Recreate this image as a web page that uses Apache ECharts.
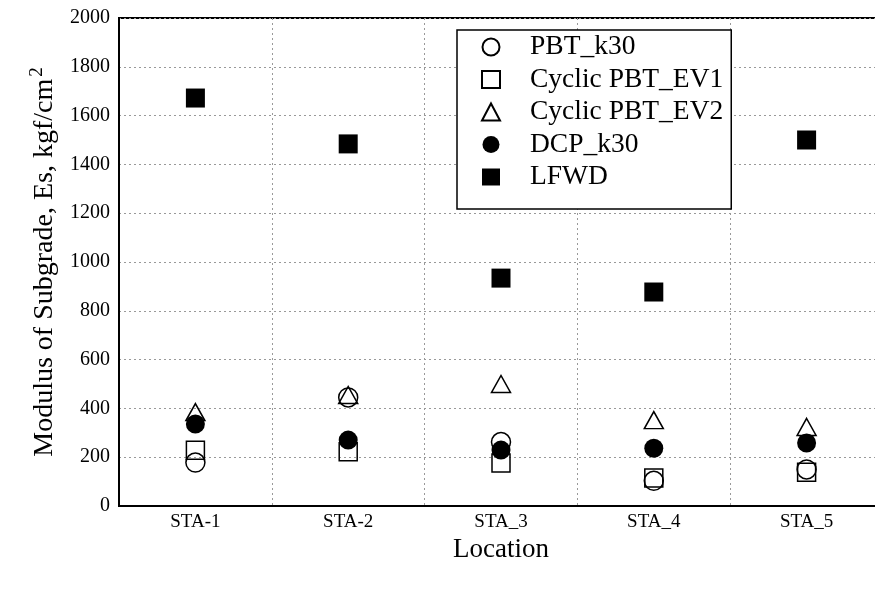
<!DOCTYPE html>
<html>
<head>
<meta charset="utf-8">
<script src="https://cdn.jsdelivr.net/npm/echarts@6/dist/echarts.min.js"></script>
<style>
  html, body { margin: 0; padding: 0; background: #fff; overflow: hidden; }
  /* the figure is cropped on the right, so the chart is a bit wider than the window */
  #main { width: 890px; height: 590px; }
</style>
</head>
<body>
<div id="main"></div>
<script>
// locations along the test road
const locations = ['STA-1', 'STA-2', 'STA_3', 'STA_4', 'STA_5']

// modulus of subgrade, kgf/cm2
const pbtK30 = [178, 445, 262, 103, 150]
const cyclicEv1 = [228, 222, 176, 115, 138]
const cyclicEv2 = [385, 455, 500, 352, 324]
const dcpK30 = [336, 270, 229, 237, 258]
const lfwd = [1672, 1484, 934, 877, 1500]

const yTicks = [0, 200, 400, 600, 800, 1000, 1200, 1400, 1600, 1800, 2000]

const serif = 'Liberation Serif, Times New Roman, serif'
const myChart = echarts.init(document.getElementById('main'))

// open markers: transparent fill with black outline
const open = { color: 'rgba(0,0,0,0)', borderColor: '#000', borderWidth: 1.5, opacity: 1 }
const filled = { color: '#000', opacity: 1 }

var option = {
  animation: false,
  backgroundColor: '#fff',
  grid: {
    left: 119,
    right: 7,
    top: 18,
    bottom: 84,
    show: true,
    borderColor: '#000',
    borderWidth: 2,
  },
  legend: {
    orient: 'vertical',
    left: 457,
    top: 30,
    padding: [3, 8, 18, 24],
    backgroundColor: '#fff',
    borderColor: '#000',
    borderWidth: 1.5,
    itemWidth: 18,
    itemHeight: 17,
    itemGap: 4.5,
    textStyle: {
      fontFamily: serif,
      fontSize: 27.5,
      color: '#000',
      lineHeight: 28,
      padding: [0, 0, 0, 25],
    },
    data: ['PBT_k30', 'Cyclic PBT_EV1', 'Cyclic PBT_EV2', 'DCP_k30', 'LFWD'],
  },
  xAxis: [
    {
      type: 'category',
      data: locations,
      name: 'Location',
      nameLocation: 'middle',
      nameGap: 30,
      nameTextStyle: { fontFamily: serif, fontSize: 27, color: '#000' },
      axisLine: { lineStyle: { color: '#000', width: 2 } },
      axisTick: { inside: true, length: 12, lineStyle: { color: '#000', width: 2 } },
      axisLabel: { fontFamily: serif, fontSize: 19, color: '#000', margin: 7 },
      splitLine: { show: true, lineStyle: { color: '#999', type: [2, 3], width: 1 } },
    },
    {
      type: 'category',
      position: 'top',
      data: locations,
      axisLine: { lineStyle: { color: '#000', width: 2 } },
      axisTick: { inside: true, length: 8, lineStyle: { color: '#000', width: 1.5 } },
      axisLabel: { show: false },
    },
  ],
  yAxis: [
    {
      type: 'value',
      min: 0,
      max: 2000,
      interval: 200,
      name: 'Modulus of Subgrade, Es, kgf/cm{sup|2}',
      nameLocation: 'middle',
      nameGap: 55,
      nameTextStyle: {
        fontFamily: serif,
        fontSize: 28,
        color: '#000',
        rich: {
          sup: { fontFamily: serif, fontSize: 19, color: '#000', verticalAlign: 'top', padding: [0, 0, 17, 2] },
        },
      },
      axisLine: { show: true, lineStyle: { color: '#000', width: 2 } },
      axisTick: { inside: true, length: 12, lineStyle: { color: '#000', width: 2 } },
      axisLabel: {
        fontFamily: serif,
        fontSize: 20,
        color: '#000',
        margin: 9,
        formatter: (v) => (yTicks.indexOf(v) >= 0 ? String(v) : ''),
      },
      splitLine: { show: true, lineStyle: { color: '#999', type: [2, 3], width: 1 } },
    },
    {
      type: 'value',
      position: 'right',
      min: 0,
      max: 2000,
      interval: 200,
      axisLine: { show: true, lineStyle: { color: '#000', width: 2 } },
      axisTick: { inside: true, length: 14, lineStyle: { color: '#000', width: 2 } },
      axisLabel: { show: false },
      splitLine: { show: false },
    },
  ],
  series: [
    { name: 'LFWD', type: 'scatter', symbol: 'rect', symbolSize: 19, itemStyle: filled, data: lfwd },
    { name: 'Cyclic PBT_EV1', type: 'scatter', symbol: 'rect', symbolSize: 18, itemStyle: open, data: cyclicEv1 },
    { name: 'Cyclic PBT_EV2', type: 'scatter', symbol: 'triangle', symbolSize: [19, 17], itemStyle: open, data: cyclicEv2 },
    { name: 'DCP_k30', type: 'scatter', symbol: 'circle', symbolSize: 19, itemStyle: filled, data: dcpK30 },
    { name: 'PBT_k30', type: 'scatter', symbol: 'circle', symbolSize: 19, itemStyle: open, data: pbtK30 },
  ],
}
option && myChart.setOption(option)
</script>
</body>
</html>
